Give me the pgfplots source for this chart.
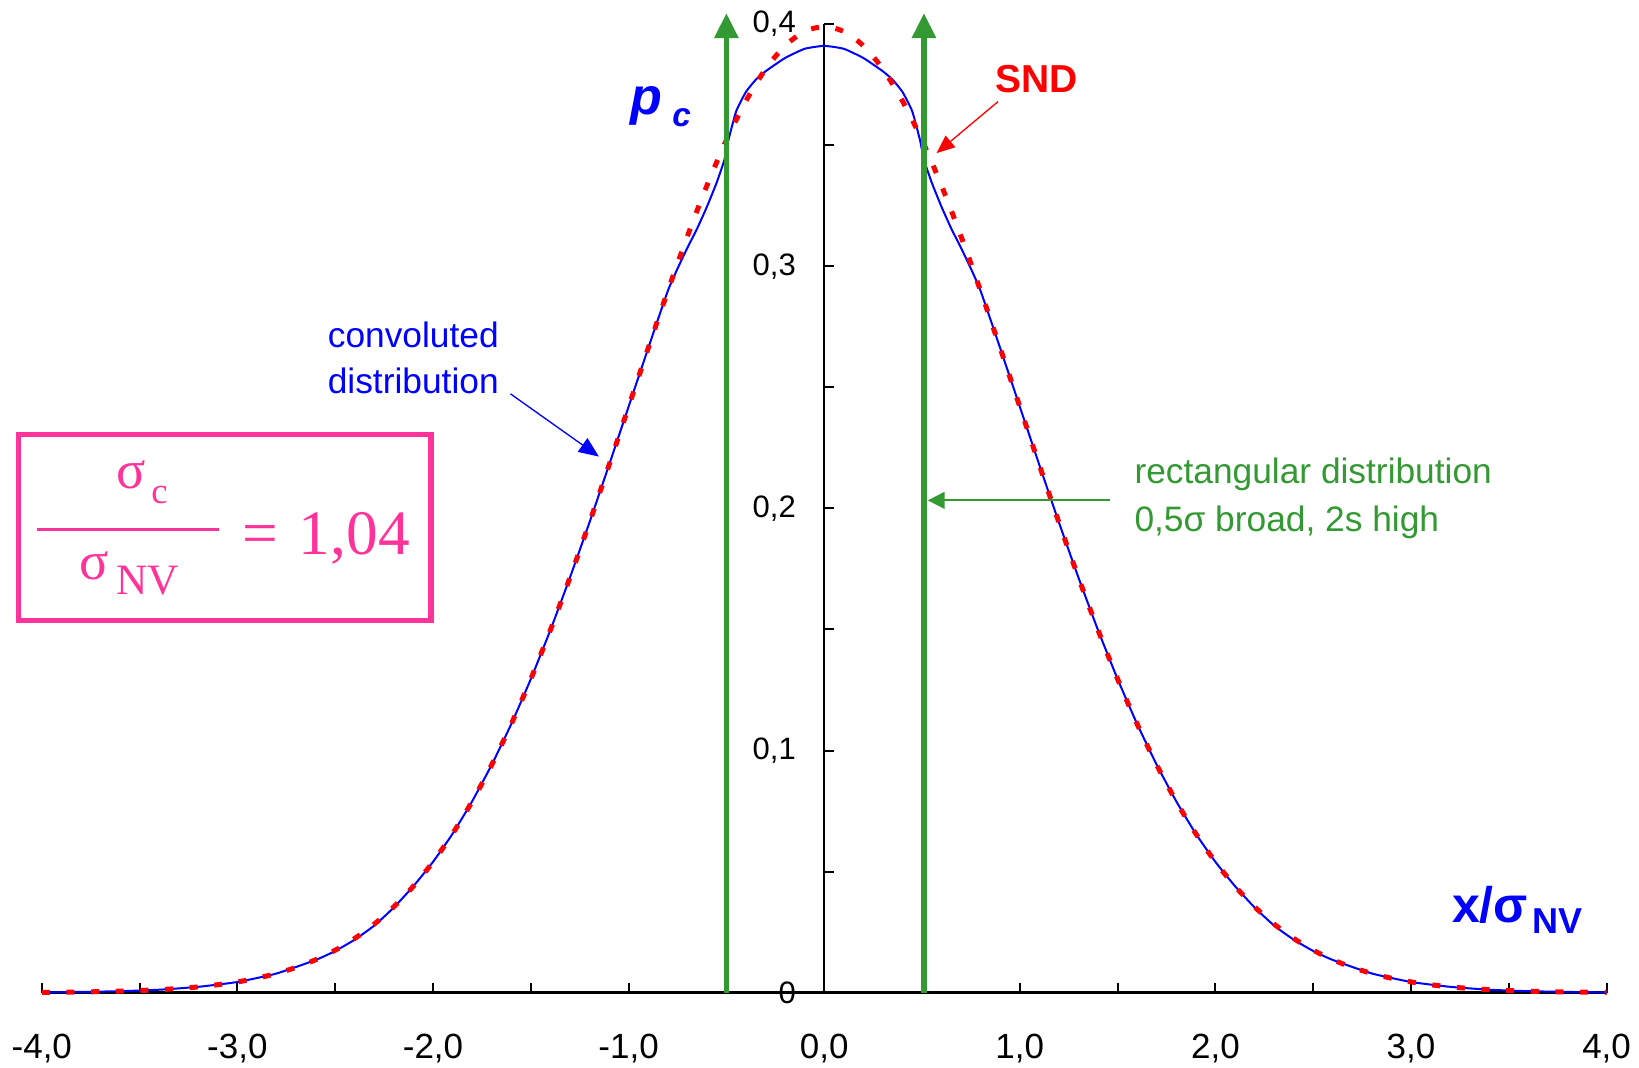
\documentclass[border=0pt]{standalone}
\usepackage{pgfplots}
\pgfplotsset{compat=1.18}
\usepackage{pgfplotstable}
\usepackage{fontspec}
\setmainfont{Liberation Sans}
\newfontfamily\eqfont{Liberation Serif}
\usetikzlibrary{arrows.meta}

\definecolor{cblue}{RGB}{0,0,255}
\definecolor{cred}{RGB}{255,0,0}
\definecolor{cgreen}{RGB}{51,153,51}
\definecolor{cpink}{RGB}{255,51,153}

% standard normal distribution (SND)
\pgfplotstableread{
x y
-4.0 0.00013
-3.9 0.00020
-3.8 0.00029
-3.7 0.00042
-3.6 0.00061
-3.5 0.00087
-3.4 0.00123
-3.3 0.00172
-3.2 0.00238
-3.1 0.00327
-3.0 0.00443
-2.9 0.00595
-2.8 0.00792
-2.7 0.01042
-2.6 0.01358
-2.5 0.01753
-2.4 0.02239
-2.3 0.02833
-2.2 0.03547
-2.1 0.04398
-2.0 0.05399
-1.9 0.06562
-1.8 0.07895
-1.7 0.09405
-1.6 0.11092
-1.5 0.12952
-1.4 0.14973
-1.3 0.17137
-1.2 0.19419
-1.1 0.21785
-1.0 0.24197
-0.9 0.26609
-0.8 0.28969
-0.7 0.31225
-0.6 0.33322
-0.5 0.35207
-0.4 0.36827
-0.3 0.38139
-0.2 0.39104
-0.1 0.39695
0.0 0.39894
0.1 0.39695
0.2 0.39104
0.3 0.38139
0.4 0.36827
0.5 0.35207
0.6 0.33322
0.7 0.31225
0.8 0.28969
0.9 0.26609
1.0 0.24197
1.1 0.21785
1.2 0.19419
1.3 0.17137
1.4 0.14973
1.5 0.12952
1.6 0.11092
1.7 0.09405
1.8 0.07895
1.9 0.06562
2.0 0.05399
2.1 0.04398
2.2 0.03547
2.3 0.02833
2.4 0.02239
2.5 0.01753
2.6 0.01358
2.7 0.01042
2.8 0.00792
2.9 0.00595
3.0 0.00443
3.1 0.00327
3.2 0.00238
3.3 0.00172
3.4 0.00123
3.5 0.00087
3.6 0.00061
3.7 0.00042
3.8 0.00029
3.9 0.00020
4.0 0.00013
}\snd

% convoluted distribution
\pgfplotstableread{
x y
-4.0 0.0001
-3.8 0.0003
-3.6 0.0006
-3.4 0.0012
-3.2 0.0024
-3.0 0.0044
-2.8 0.0079
-2.6 0.0135
-2.5 0.0172
-2.4 0.0219
-2.3 0.0277
-2.2 0.0352
-2.1 0.0440
-2.0 0.0540
-1.9 0.0656
-1.8 0.0790
-1.7 0.0941
-1.6 0.1109
-1.5 0.1295
-1.4 0.1497
-1.3 0.1714
-1.2 0.1942
-1.1 0.2179
-1.0 0.2420
-0.9 0.2661
-0.8 0.2897
-0.75 0.2990
-0.7 0.3075
-0.65 0.3155
-0.6 0.3245
-0.55 0.3345
-0.51 0.3440
-0.49 0.3520
-0.45 0.3640
-0.4 0.3720
-0.35 0.3770
-0.3 0.3805
-0.2 0.3860
-0.1 0.3898
0.0 0.3910
0.1 0.3898
0.2 0.3860
0.3 0.3805
0.35 0.3770
0.4 0.3720
0.45 0.3640
0.49 0.3520
0.51 0.3440
0.55 0.3345
0.6 0.3245
0.65 0.3155
0.7 0.3075
0.75 0.2990
0.8 0.2897
0.9 0.2661
1.0 0.2420
1.1 0.2179
1.2 0.1942
1.3 0.1714
1.4 0.1497
1.5 0.1295
1.6 0.1109
1.7 0.0941
1.8 0.0790
1.9 0.0656
2.0 0.0540
2.1 0.0440
2.2 0.0352
2.3 0.0277
2.4 0.0219
2.5 0.0172
2.6 0.0135
2.8 0.0079
3.0 0.0044
3.2 0.0024
3.4 0.0012
3.6 0.0006
3.8 0.0003
4.0 0.0001
}\conv

\begin{document}
\begin{tikzpicture}
\begin{axis}[
  scale only axis, width=469.5pt, height=290.6pt,
  xmin=-4, xmax=4, ymin=0, ymax=0.4,
  enlargelimits=false, clip=false,
  axis lines=middle,
  axis line style={-},
  x axis line style={line width=0.9pt},
  y axis line style={line width=0.6pt},
  hide obscured x ticks=false, hide obscured y ticks=false,
  xtick={-4,-3,-2,-1,0,1,2,3,4},
  xticklabels={{-4,0},{-3,0},{-2,0},{-1,0},{0,0},{1,0},{2,0},{3,0},{4,0}},
  minor xtick={-3.5,-2.5,-1.5,-0.5,0.5,1.5,2.5,3.5},
  ytick={0,0.1,0.2,0.3,0.4},
  yticklabels={0,{0,1},{0,2},{0,3},{0,4}},
  minor ytick={0.05,0.15,0.25,0.35},
  tick align=inside,
  major tick length=3pt, minor tick length=3pt,
  tick style={black, line width=0.6pt},
  xticklabel style={font=\fontsize{10.5pt}{12pt}\selectfont, anchor=north, yshift=-9pt},
  yticklabel style={font=\fontsize{9.3pt}{11pt}\selectfont, anchor=east, xshift=-5pt},
]
\addplot[cblue, line width=0.6pt, smooth, tension=0.3] table {\conv};
\addplot[cred, line width=1.5pt, dash pattern=on 2.4pt off 5pt, smooth] table {\snd};
\addplot[cgreen, line width=1.6pt, -{Triangle[width=7pt,length=7.5pt]}] coordinates {(-0.5,0) (-0.5,0.4045)};
\addplot[cgreen, line width=1.6pt, -{Triangle[width=7pt,length=7.5pt]}] coordinates {(0.51,0) (0.51,0.4045)};

% labels
\node[anchor=base west, inner sep=0, text=cblue, font=\fontsize{15.6pt}{18pt}\selectfont\bfseries\itshape] at (axis cs:-0.994,0.3625) {p};
\node[anchor=base west, inner sep=0, text=cblue, font=\fontsize{10pt}{12pt}\selectfont\bfseries\itshape] at (axis cs:-0.78,0.3575) {c};
\node[anchor=base west, inner sep=0, text=cred, font=\fontsize{11.7pt}{14pt}\selectfont\bfseries] at (axis cs:0.872,0.3717) {SND};
\draw[cred, line width=0.4pt, -{Triangle[width=4.5pt,length=5.5pt]}] (axis cs:0.889,0.368) -- (axis cs:0.574,0.3467);

\node[anchor=base west, inner sep=0, text=cblue, font=\fontsize{10.6pt}{12pt}\selectfont] at (axis cs:-2.541,0.2666) {convoluted};
\node[anchor=base west, inner sep=0, text=cblue, font=\fontsize{10.6pt}{12pt}\selectfont] at (axis cs:-2.541,0.2476) {distribution};
\draw[cblue, line width=0.4pt, -{Triangle[width=5pt,length=6pt]}] (axis cs:-1.604,0.2473) -- (axis cs:-1.152,0.2214);

\node[anchor=base west, inner sep=0, text=cgreen, font=\fontsize{10.6pt}{12pt}\selectfont] at (axis cs:1.583,0.2104) {rectangular distribution};
\node[anchor=base west, inner sep=0, text=cgreen, font=\fontsize{10.6pt}{12pt}\selectfont] at (axis cs:1.583,0.1905) {0,5σ broad, 2s high};
\draw[cgreen, line width=0.6pt, -{Triangle[width=5pt,length=5pt]}] (axis cs:1.462,0.2033) -- (axis cs:0.53,0.2033);

\node[anchor=base west, inner sep=0, text=cblue, font=\fontsize{15pt}{18pt}\selectfont\bfseries] at (axis cs:3.207,0.0288) {x/σ};
\node[anchor=base west, inner sep=0, text=cblue, font=\fontsize{10.8pt}{13pt}\selectfont\bfseries] at (axis cs:3.616,0.0244) {NV};

% ratio box
\draw[cpink, line width=1.6pt] (axis cs:-4.12,0.1537) rectangle (axis cs:-2.011,0.2304);
\draw[cpink, line width=0.75pt] (axis cs:-4.025,0.1912) -- (axis cs:-3.096,0.1912);
\node[anchor=base west, inner sep=0, text=cpink, font=\eqfont\fontsize{16.3pt}{20pt}\selectfont] at (axis cs:-3.622,0.2084) {σ};
\node[anchor=base west, inner sep=0, text=cpink, font=\eqfont\fontsize{11pt}{13pt}\selectfont] at (axis cs:-3.443,0.2022) {c};
\node[anchor=base west, inner sep=0, text=cpink, font=\eqfont\fontsize{16.3pt}{20pt}\selectfont] at (axis cs:-3.812,0.1705) {σ};
\node[anchor=base west, inner sep=0, text=cpink, font=\eqfont\fontsize{13pt}{16pt}\selectfont] at (axis cs:-3.622,0.1643) {NV};
\node[anchor=base west, inner sep=0, text=cpink, font=\eqfont\fontsize{19pt}{23pt}\selectfont] at (axis cs:-2.975,0.1808) {=};
\node[anchor=base west, inner sep=0, text=cpink, font=\eqfont\fontsize{19pt}{23pt}\selectfont] at (axis cs:-2.689,0.1808) {1,04};
\end{axis}
\pgfresetboundingbox
\path (-12.54pt,-22.5pt) rectangle (479.22pt,297.83pt);
\end{tikzpicture}
\end{document}
